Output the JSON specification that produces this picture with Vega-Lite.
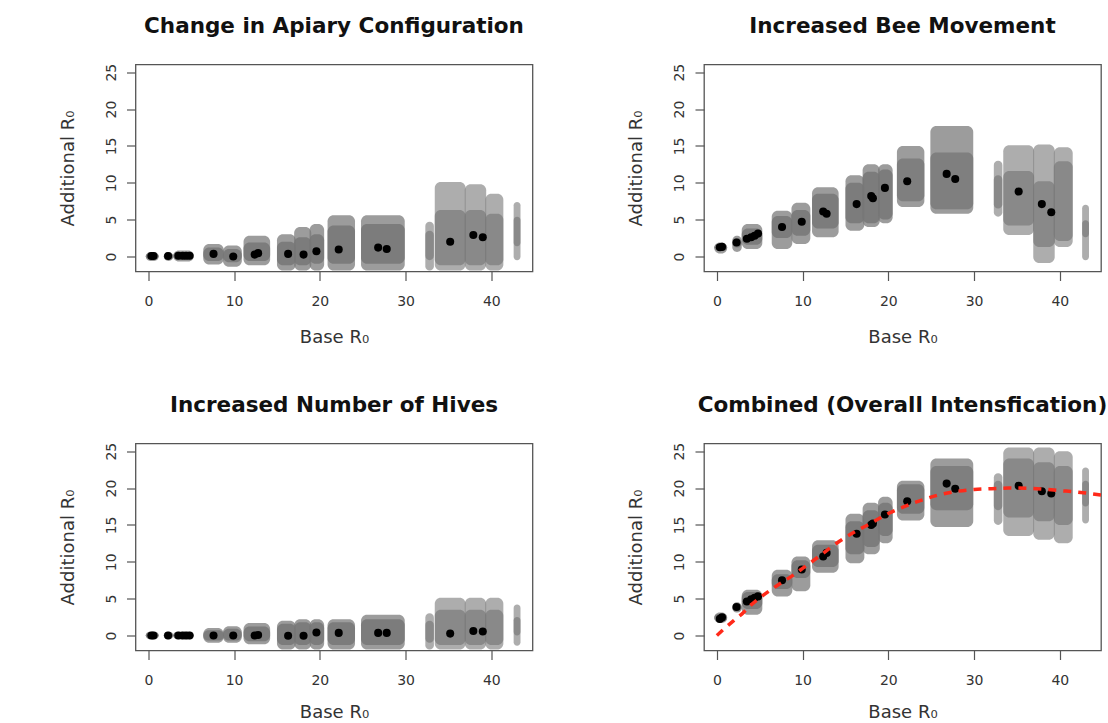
{
  "$schema": "https://vega.github.io/schema/vega-lite/v6.json",
  "background": "white",
  "padding": {"left": 57.5, "top": 15.5, "right": 0, "bottom": 0},
  "datasets": {
    "clouds": [
      {"p": "apiary", "x1": -0.3, "x2": 1.2, "y1": -0.6, "y2": 0.6, "d": "fringe"},
      {"p": "apiary", "x1": -0.3, "x2": 1.2, "y1": -0.35, "y2": 0.4, "d": "core"},
      {"p": "apiary", "x1": 1.8, "x2": 2.9, "y1": -0.6, "y2": 0.6, "d": "fringe"},
      {"p": "apiary", "x1": 1.8, "x2": 2.9, "y1": -0.35, "y2": 0.4, "d": "core"},
      {"p": "apiary", "x1": 2.9, "x2": 5.3, "y1": -0.7, "y2": 0.8, "d": "fringe"},
      {"p": "apiary", "x1": 2.9, "x2": 5.3, "y1": -0.45, "y2": 0.6, "d": "core"},
      {"p": "apiary", "x1": 6.4, "x2": 8.8, "y1": -1.1, "y2": 1.7, "d": "fringe"},
      {"p": "apiary", "x1": 6.4, "x2": 8.8, "y1": -0.6, "y2": 1.2, "d": "core"},
      {"p": "apiary", "x1": 8.7, "x2": 10.9, "y1": -1.4, "y2": 1.5, "d": "fringe"},
      {"p": "apiary", "x1": 8.7, "x2": 10.9, "y1": -0.8, "y2": 1.0, "d": "core"},
      {"p": "apiary", "x1": 11.1, "x2": 14.2, "y1": -1.2, "y2": 2.8, "d": "fringe"},
      {"p": "apiary", "x1": 11.1, "x2": 14.2, "y1": -0.6, "y2": 1.9, "d": "core"},
      {"p": "apiary", "x1": 15.0, "x2": 17.2, "y1": -1.9, "y2": 3.0, "d": "fringe"},
      {"p": "apiary", "x1": 15.0, "x2": 17.2, "y1": -1.2, "y2": 2.0, "d": "core"},
      {"p": "apiary", "x1": 17.0, "x2": 19.0, "y1": -1.9, "y2": 4.0, "d": "fringe"},
      {"p": "apiary", "x1": 17.0, "x2": 19.0, "y1": -1.2, "y2": 2.6, "d": "core"},
      {"p": "apiary", "x1": 18.8, "x2": 20.5, "y1": -1.9, "y2": 4.4, "d": "fringe"},
      {"p": "apiary", "x1": 18.8, "x2": 20.5, "y1": -1.0, "y2": 3.0, "d": "core"},
      {"p": "apiary", "x1": 20.9, "x2": 24.1, "y1": -1.9, "y2": 5.6, "d": "fringe"},
      {"p": "apiary", "x1": 20.9, "x2": 24.1, "y1": -1.0, "y2": 4.2, "d": "core"},
      {"p": "apiary", "x1": 24.8, "x2": 29.9, "y1": -1.9, "y2": 5.6, "d": "fringe"},
      {"p": "apiary", "x1": 24.8, "x2": 29.9, "y1": -1.0, "y2": 4.4, "d": "core"},
      {"p": "apiary", "x1": 32.3, "x2": 33.3, "y1": -1.9, "y2": 4.7, "d": "sparse fringe"},
      {"p": "apiary", "x1": 32.3, "x2": 33.3, "y1": -0.5, "y2": 3.5, "d": "sparse core"},
      {"p": "apiary", "x1": 33.4, "x2": 37.0, "y1": -1.9, "y2": 10.1, "d": "sparse fringe"},
      {"p": "apiary", "x1": 33.4, "x2": 37.0, "y1": -1.2, "y2": 6.3, "d": "sparse core"},
      {"p": "apiary", "x1": 36.9, "x2": 39.4, "y1": -1.9, "y2": 9.8, "d": "sparse fringe"},
      {"p": "apiary", "x1": 36.9, "x2": 39.4, "y1": -1.2, "y2": 6.3, "d": "sparse core"},
      {"p": "apiary", "x1": 39.3, "x2": 41.4, "y1": -1.9, "y2": 8.5, "d": "sparse fringe"},
      {"p": "apiary", "x1": 39.3, "x2": 41.4, "y1": -1.2, "y2": 5.8, "d": "sparse core"},
      {"p": "apiary", "x1": 42.6, "x2": 43.4, "y1": -0.5, "y2": 7.4, "d": "sparse fringe"},
      {"p": "apiary", "x1": 42.6, "x2": 43.4, "y1": 1.4, "y2": 5.4, "d": "sparse core"},

      {"p": "movement", "x1": -0.3, "x2": 1.2, "y1": 0.4, "y2": 1.9, "d": "fringe"},
      {"p": "movement", "x1": -0.3, "x2": 1.2, "y1": 0.8, "y2": 1.7, "d": "core"},
      {"p": "movement", "x1": 1.8, "x2": 2.9, "y1": 0.6, "y2": 2.8, "d": "fringe"},
      {"p": "movement", "x1": 1.8, "x2": 2.9, "y1": 1.2, "y2": 2.5, "d": "core"},
      {"p": "movement", "x1": 2.9, "x2": 5.3, "y1": 1.0, "y2": 4.4, "d": "fringe"},
      {"p": "movement", "x1": 2.9, "x2": 5.3, "y1": 1.6, "y2": 3.8, "d": "core"},
      {"p": "movement", "x1": 6.4, "x2": 8.8, "y1": 1.0, "y2": 6.2, "d": "fringe"},
      {"p": "movement", "x1": 6.4, "x2": 8.8, "y1": 2.5, "y2": 5.5, "d": "core"},
      {"p": "movement", "x1": 8.7, "x2": 10.9, "y1": 1.7, "y2": 7.3, "d": "fringe"},
      {"p": "movement", "x1": 8.7, "x2": 10.9, "y1": 2.8, "y2": 6.3, "d": "core"},
      {"p": "movement", "x1": 11.1, "x2": 14.2, "y1": 2.6, "y2": 9.4, "d": "fringe"},
      {"p": "movement", "x1": 11.1, "x2": 14.2, "y1": 3.8, "y2": 8.5, "d": "core"},
      {"p": "movement", "x1": 15.0, "x2": 17.2, "y1": 3.5, "y2": 11.0, "d": "fringe"},
      {"p": "movement", "x1": 15.0, "x2": 17.2, "y1": 4.5, "y2": 10.0, "d": "core"},
      {"p": "movement", "x1": 17.0, "x2": 19.0, "y1": 4.0, "y2": 12.5, "d": "fringe"},
      {"p": "movement", "x1": 17.0, "x2": 19.0, "y1": 4.5, "y2": 11.5, "d": "core"},
      {"p": "movement", "x1": 18.8, "x2": 20.5, "y1": 4.5, "y2": 12.5, "d": "fringe"},
      {"p": "movement", "x1": 18.8, "x2": 20.5, "y1": 5.0, "y2": 11.8, "d": "core"},
      {"p": "movement", "x1": 21.0, "x2": 24.2, "y1": 6.7, "y2": 15.0, "d": "fringe"},
      {"p": "movement", "x1": 21.0, "x2": 24.2, "y1": 7.5, "y2": 13.3, "d": "mid core"},
      {"p": "movement", "x1": 24.9, "x2": 29.9, "y1": 5.8, "y2": 17.7, "d": "fringe"},
      {"p": "movement", "x1": 24.9, "x2": 29.9, "y1": 6.4, "y2": 14.1, "d": "mid core"},
      {"p": "movement", "x1": 32.3, "x2": 33.3, "y1": 5.4, "y2": 13.0, "d": "sparse fringe"},
      {"p": "movement", "x1": 32.3, "x2": 33.3, "y1": 6.5, "y2": 11.0, "d": "sparse core"},
      {"p": "movement", "x1": 33.4, "x2": 37.0, "y1": 2.9, "y2": 15.1, "d": "sparse fringe"},
      {"p": "movement", "x1": 33.4, "x2": 37.0, "y1": 4.2, "y2": 11.6, "d": "sparse core"},
      {"p": "movement", "x1": 36.9, "x2": 39.4, "y1": -0.9, "y2": 15.2, "d": "sparse fringe"},
      {"p": "movement", "x1": 36.9, "x2": 39.4, "y1": 1.3, "y2": 10.2, "d": "sparse core"},
      {"p": "movement", "x1": 39.3, "x2": 41.5, "y1": 1.3, "y2": 14.8, "d": "sparse fringe"},
      {"p": "movement", "x1": 39.3, "x2": 41.5, "y1": 2.1, "y2": 12.9, "d": "sparse core"},
      {"p": "movement", "x1": 42.6, "x2": 43.4, "y1": -0.5, "y2": 7.0, "d": "sparse fringe"},
      {"p": "movement", "x1": 42.6, "x2": 43.4, "y1": 2.6, "y2": 4.9, "d": "sparse core"},

      {"p": "hives", "x1": -0.3, "x2": 1.2, "y1": -0.5, "y2": 0.5, "d": "fringe"},
      {"p": "hives", "x1": -0.3, "x2": 1.2, "y1": -0.3, "y2": 0.35, "d": "core"},
      {"p": "hives", "x1": 1.8, "x2": 2.9, "y1": -0.5, "y2": 0.5, "d": "fringe"},
      {"p": "hives", "x1": 1.8, "x2": 2.9, "y1": -0.3, "y2": 0.35, "d": "core"},
      {"p": "hives", "x1": 2.9, "x2": 5.3, "y1": -0.5, "y2": 0.5, "d": "fringe"},
      {"p": "hives", "x1": 2.9, "x2": 5.3, "y1": -0.3, "y2": 0.35, "d": "core"},
      {"p": "hives", "x1": 6.4, "x2": 8.8, "y1": -1.0, "y2": 1.0, "d": "fringe"},
      {"p": "hives", "x1": 6.4, "x2": 8.8, "y1": -0.7, "y2": 0.7, "d": "core"},
      {"p": "hives", "x1": 8.7, "x2": 10.9, "y1": -1.0, "y2": 1.25, "d": "fringe"},
      {"p": "hives", "x1": 8.7, "x2": 10.9, "y1": -0.7, "y2": 0.9, "d": "core"},
      {"p": "hives", "x1": 11.1, "x2": 14.2, "y1": -1.2, "y2": 1.7, "d": "fringe"},
      {"p": "hives", "x1": 11.1, "x2": 14.2, "y1": -0.8, "y2": 1.2, "d": "core"},
      {"p": "hives", "x1": 15.0, "x2": 17.2, "y1": -1.9, "y2": 2.0, "d": "fringe"},
      {"p": "hives", "x1": 15.0, "x2": 17.2, "y1": -1.3, "y2": 1.6, "d": "core"},
      {"p": "hives", "x1": 17.0, "x2": 19.0, "y1": -1.9, "y2": 2.2, "d": "fringe"},
      {"p": "hives", "x1": 17.0, "x2": 19.0, "y1": -1.3, "y2": 1.8, "d": "core"},
      {"p": "hives", "x1": 18.8, "x2": 20.5, "y1": -1.9, "y2": 2.2, "d": "fringe"},
      {"p": "hives", "x1": 18.8, "x2": 20.5, "y1": -1.3, "y2": 1.8, "d": "core"},
      {"p": "hives", "x1": 20.9, "x2": 24.1, "y1": -1.9, "y2": 2.2, "d": "fringe"},
      {"p": "hives", "x1": 20.9, "x2": 24.1, "y1": -1.3, "y2": 1.8, "d": "core"},
      {"p": "hives", "x1": 24.8, "x2": 29.9, "y1": -1.9, "y2": 2.8, "d": "fringe"},
      {"p": "hives", "x1": 24.8, "x2": 29.9, "y1": -1.3, "y2": 2.2, "d": "core"},
      {"p": "hives", "x1": 32.3, "x2": 33.3, "y1": -1.9, "y2": 3.0, "d": "sparse fringe"},
      {"p": "hives", "x1": 32.3, "x2": 33.3, "y1": -1.0, "y2": 2.0, "d": "sparse core"},
      {"p": "hives", "x1": 33.4, "x2": 37.0, "y1": -1.9, "y2": 5.1, "d": "sparse fringe"},
      {"p": "hives", "x1": 33.4, "x2": 37.0, "y1": -1.3, "y2": 3.5, "d": "sparse core"},
      {"p": "hives", "x1": 36.9, "x2": 39.4, "y1": -1.9, "y2": 5.1, "d": "sparse fringe"},
      {"p": "hives", "x1": 36.9, "x2": 39.4, "y1": -1.3, "y2": 3.5, "d": "sparse core"},
      {"p": "hives", "x1": 39.3, "x2": 41.4, "y1": -1.9, "y2": 5.1, "d": "sparse fringe"},
      {"p": "hives", "x1": 39.3, "x2": 41.4, "y1": -1.3, "y2": 3.5, "d": "sparse core"},
      {"p": "hives", "x1": 42.6, "x2": 43.4, "y1": -1.4, "y2": 4.2, "d": "sparse fringe"},
      {"p": "hives", "x1": 42.6, "x2": 43.4, "y1": 0.0, "y2": 2.5, "d": "sparse core"},

      {"p": "combined", "x1": -0.3, "x2": 1.2, "y1": 1.7, "y2": 3.1, "d": "fringe"},
      {"p": "combined", "x1": -0.3, "x2": 1.2, "y1": 1.9, "y2": 2.9, "d": "core"},
      {"p": "combined", "x1": 1.8, "x2": 2.9, "y1": 3.1, "y2": 4.5, "d": "fringe"},
      {"p": "combined", "x1": 1.8, "x2": 2.9, "y1": 3.3, "y2": 4.3, "d": "core"},
      {"p": "combined", "x1": 2.9, "x2": 5.3, "y1": 2.8, "y2": 6.2, "d": "fringe"},
      {"p": "combined", "x1": 2.9, "x2": 5.3, "y1": 3.6, "y2": 5.9, "d": "core"},
      {"p": "combined", "x1": 6.4, "x2": 8.8, "y1": 5.3, "y2": 8.9, "d": "fringe"},
      {"p": "combined", "x1": 6.4, "x2": 8.8, "y1": 6.3, "y2": 8.3, "d": "core"},
      {"p": "combined", "x1": 8.7, "x2": 10.9, "y1": 6.0, "y2": 10.7, "d": "fringe"},
      {"p": "combined", "x1": 8.7, "x2": 10.9, "y1": 7.8, "y2": 10.2, "d": "core"},
      {"p": "combined", "x1": 11.1, "x2": 14.2, "y1": 8.5, "y2": 12.9, "d": "fringe"},
      {"p": "combined", "x1": 11.1, "x2": 14.2, "y1": 9.3, "y2": 12.3, "d": "core"},
      {"p": "combined", "x1": 15.0, "x2": 17.2, "y1": 9.8, "y2": 16.5, "d": "fringe"},
      {"p": "combined", "x1": 15.0, "x2": 17.2, "y1": 11.0, "y2": 15.5, "d": "core"},
      {"p": "combined", "x1": 17.0, "x2": 19.0, "y1": 11.0, "y2": 18.0, "d": "fringe"},
      {"p": "combined", "x1": 17.0, "x2": 19.0, "y1": 12.0, "y2": 17.0, "d": "core"},
      {"p": "combined", "x1": 18.8, "x2": 20.5, "y1": 12.5, "y2": 18.8, "d": "fringe"},
      {"p": "combined", "x1": 18.8, "x2": 20.5, "y1": 13.5, "y2": 18.0, "d": "core"},
      {"p": "combined", "x1": 21.0, "x2": 24.2, "y1": 15.6, "y2": 21.0, "d": "fringe"},
      {"p": "combined", "x1": 21.0, "x2": 24.2, "y1": 16.5, "y2": 20.5, "d": "core"},
      {"p": "combined", "x1": 24.9, "x2": 29.9, "y1": 14.7, "y2": 24.0, "d": "fringe"},
      {"p": "combined", "x1": 24.9, "x2": 29.9, "y1": 17.0, "y2": 23.0, "d": "mid core"},
      {"p": "combined", "x1": 32.3, "x2": 33.3, "y1": 15.0, "y2": 22.0, "d": "sparse fringe"},
      {"p": "combined", "x1": 32.3, "x2": 33.3, "y1": 17.0, "y2": 21.0, "d": "sparse core"},
      {"p": "combined", "x1": 33.4, "x2": 37.0, "y1": 13.5, "y2": 25.5, "d": "sparse fringe"},
      {"p": "combined", "x1": 33.4, "x2": 37.0, "y1": 16.0, "y2": 24.0, "d": "sparse core"},
      {"p": "combined", "x1": 36.9, "x2": 39.4, "y1": 13.0, "y2": 25.5, "d": "sparse fringe"},
      {"p": "combined", "x1": 36.9, "x2": 39.4, "y1": 15.5, "y2": 23.5, "d": "sparse core"},
      {"p": "combined", "x1": 39.3, "x2": 41.5, "y1": 12.5, "y2": 25.0, "d": "sparse fringe"},
      {"p": "combined", "x1": 39.3, "x2": 41.5, "y1": 15.0, "y2": 23.0, "d": "sparse core"},
      {"p": "combined", "x1": 42.6, "x2": 43.4, "y1": 15.2, "y2": 22.8, "d": "sparse fringe"},
      {"p": "combined", "x1": 42.6, "x2": 43.4, "y1": 17.5, "y2": 21.0, "d": "sparse core"}
    ],
    "means": [
      {"p": "apiary", "x": 0.35, "y": 0.05}, {"p": "apiary", "x": 0.6, "y": 0.05},
      {"p": "apiary", "x": 2.3, "y": 0.05}, {"p": "apiary", "x": 3.5, "y": 0.1},
      {"p": "apiary", "x": 4.0, "y": 0.1}, {"p": "apiary", "x": 4.4, "y": 0.1},
      {"p": "apiary", "x": 4.8, "y": 0.1}, {"p": "apiary", "x": 7.6, "y": 0.35},
      {"p": "apiary", "x": 9.9, "y": 0.0}, {"p": "apiary", "x": 12.4, "y": 0.25},
      {"p": "apiary", "x": 12.8, "y": 0.45}, {"p": "apiary", "x": 16.3, "y": 0.35},
      {"p": "apiary", "x": 18.1, "y": 0.25}, {"p": "apiary", "x": 19.6, "y": 0.7},
      {"p": "apiary", "x": 22.2, "y": 0.95}, {"p": "apiary", "x": 26.8, "y": 1.2},
      {"p": "apiary", "x": 27.8, "y": 1.0}, {"p": "apiary", "x": 35.2, "y": 2.0},
      {"p": "apiary", "x": 37.9, "y": 2.9}, {"p": "apiary", "x": 39.0, "y": 2.6},

      {"p": "movement", "x": 0.35, "y": 1.25}, {"p": "movement", "x": 0.6, "y": 1.3},
      {"p": "movement", "x": 2.3, "y": 1.9}, {"p": "movement", "x": 3.5, "y": 2.4},
      {"p": "movement", "x": 4.0, "y": 2.6}, {"p": "movement", "x": 4.4, "y": 2.8},
      {"p": "movement", "x": 4.8, "y": 3.1}, {"p": "movement", "x": 7.6, "y": 4.0},
      {"p": "movement", "x": 9.9, "y": 4.7}, {"p": "movement", "x": 12.4, "y": 6.1},
      {"p": "movement", "x": 12.8, "y": 5.8}, {"p": "movement", "x": 16.3, "y": 7.1},
      {"p": "movement", "x": 18.0, "y": 8.2}, {"p": "movement", "x": 18.2, "y": 7.9},
      {"p": "movement", "x": 19.6, "y": 9.3}, {"p": "movement", "x": 22.2, "y": 10.2},
      {"p": "movement", "x": 26.8, "y": 11.2}, {"p": "movement", "x": 27.8, "y": 10.5},
      {"p": "movement", "x": 35.2, "y": 8.8}, {"p": "movement", "x": 37.9, "y": 7.1},
      {"p": "movement", "x": 39.0, "y": 6.0},

      {"p": "hives", "x": 0.35, "y": 0.0}, {"p": "hives", "x": 0.6, "y": 0.0},
      {"p": "hives", "x": 2.3, "y": 0.0}, {"p": "hives", "x": 3.5, "y": 0.0},
      {"p": "hives", "x": 4.0, "y": 0.0}, {"p": "hives", "x": 4.4, "y": 0.0},
      {"p": "hives", "x": 4.8, "y": 0.0}, {"p": "hives", "x": 7.6, "y": 0.0},
      {"p": "hives", "x": 9.9, "y": 0.0}, {"p": "hives", "x": 12.4, "y": 0.0},
      {"p": "hives", "x": 12.8, "y": 0.05}, {"p": "hives", "x": 16.3, "y": -0.05},
      {"p": "hives", "x": 18.1, "y": -0.05}, {"p": "hives", "x": 19.6, "y": 0.4},
      {"p": "hives", "x": 22.2, "y": 0.35}, {"p": "hives", "x": 26.8, "y": 0.35},
      {"p": "hives", "x": 27.8, "y": 0.35}, {"p": "hives", "x": 35.2, "y": 0.25},
      {"p": "hives", "x": 37.9, "y": 0.6}, {"p": "hives", "x": 39.0, "y": 0.55},

      {"p": "combined", "x": 0.35, "y": 2.25}, {"p": "combined", "x": 0.6, "y": 2.45},
      {"p": "combined", "x": 2.3, "y": 3.85}, {"p": "combined", "x": 3.5, "y": 4.6},
      {"p": "combined", "x": 4.0, "y": 4.9}, {"p": "combined", "x": 4.4, "y": 5.1},
      {"p": "combined", "x": 4.8, "y": 5.3}, {"p": "combined", "x": 7.6, "y": 7.5},
      {"p": "combined", "x": 9.9, "y": 8.95}, {"p": "combined", "x": 12.4, "y": 10.7},
      {"p": "combined", "x": 12.8, "y": 11.2}, {"p": "combined", "x": 16.3, "y": 13.8},
      {"p": "combined", "x": 18.0, "y": 15.0}, {"p": "combined", "x": 18.2, "y": 15.2},
      {"p": "combined", "x": 19.6, "y": 16.4}, {"p": "combined", "x": 22.2, "y": 18.2},
      {"p": "combined", "x": 26.8, "y": 20.6}, {"p": "combined", "x": 27.8, "y": 19.9},
      {"p": "combined", "x": 35.2, "y": 20.3}, {"p": "combined", "x": 37.9, "y": 19.55},
      {"p": "combined", "x": 39.0, "y": 19.25}
    ],
    "curve": [
      {"x": 0, "y": 0.0}, {"x": 1, "y": 1.05}, {"x": 2, "y": 2.05}, {"x": 3, "y": 3.0},
      {"x": 4, "y": 4.15}, {"x": 5, "y": 5.1}, {"x": 6, "y": 5.95}, {"x": 7, "y": 6.75},
      {"x": 8, "y": 7.5}, {"x": 9, "y": 8.25}, {"x": 10, "y": 9.1}, {"x": 12, "y": 10.8},
      {"x": 14, "y": 12.55}, {"x": 16, "y": 14.0}, {"x": 18, "y": 15.25}, {"x": 20, "y": 16.55},
      {"x": 22, "y": 17.55}, {"x": 24, "y": 18.4}, {"x": 26, "y": 19.1}, {"x": 28, "y": 19.55},
      {"x": 30, "y": 19.8}, {"x": 32, "y": 19.9}, {"x": 34, "y": 20.0}, {"x": 36, "y": 19.98},
      {"x": 38, "y": 19.85}, {"x": 40, "y": 19.65}, {"x": 42, "y": 19.45}, {"x": 44.8, "y": 19.05}
    ]
  },
  "config": {
    "view": {"stroke": "#555555", "strokeWidth": 1.3},
    "font": "DejaVu Sans",
    "axis": {
      "domain": false, "grid": false, "ticks": true, "tickSize": 9, "tickColor": "#555555", "tickWidth": 1.2,
      "labelFont": "DejaVu Sans", "labelFontSize": 14, "labelColor": "#333333",
      "titleFont": "DejaVu Sans", "titleFontSize": 18, "titleFontWeight": "normal", "titleColor": "#333333",
      "labelFlush": false, "labelOverlap": false
    },
    "title": {"font": "DejaVu Sans", "fontSize": 21.5, "fontWeight": "bold", "color": "#111111", "anchor": "middle", "frame": "group", "baseline": "alphabetic", "offset": 25.5}
  },
  "columns": 2,
  "spacing": {"row": 172, "column": 171.5},
  "bounds": "flush",
  "concat": [
    {
      "title": "Change in Apiary Configuration",
      "width": 397, "height": 207,
      "layer": [
        {
          "data": {"name": "clouds"},
          "transform": [{"filter": "datum.p === 'apiary'"}],
          "mark": {"type": "rect", "color": "#777777", "cornerRadius": 6},
          "encoding": {
            "x": {"field": "x1", "type": "quantitative", "scale": {"domain": [-1.5, 44.8], "nice": false, "zero": false},
                  "axis": {"values": [0, 10, 20, 30, 40], "title": "Base R₀", "labelPadding": 14, "titleBaseline": "alphabetic", "titleY": 70.5}},
            "x2": {"field": "x2"},
            "y": {"field": "y1", "type": "quantitative", "scale": {"domain": [-2.04, 26.04], "nice": false, "zero": false},
                  "axis": {"values": [0, 5, 10, 15, 20, 25], "title": "Additional R₀", "labelAngle": -90, "labelAlign": "center", "labelBaseline": "alphabetic", "labelPadding": 11.5, "titleAngle": -90, "titleBaseline": "alphabetic", "titleX": -62.5, "titleY": 103.5}},
            "y2": {"field": "y2"},
            "opacity": {"field": "d", "type": "ordinal", "scale": {"domain": ["core", "mid core", "fringe", "sparse core", "sparse fringe"], "range": [0.85, 0.6, 0.35, 0.42, 0.16]}, "legend": null}
          }
        },
        {
          "data": {"name": "means"},
          "transform": [{"filter": "datum.p === 'apiary'"}],
          "mark": {"type": "circle", "color": "#000000", "opacity": 1, "size": 65},
          "encoding": {"x": {"field": "x", "type": "quantitative"}, "y": {"field": "y", "type": "quantitative"}}
        }
      ]
    },
    {
      "title": "Increased Bee Movement",
      "width": 397, "height": 207,
      "layer": [
        {
          "data": {"name": "clouds"},
          "transform": [{"filter": "datum.p === 'movement'"}],
          "mark": {"type": "rect", "color": "#777777", "cornerRadius": 6},
          "encoding": {
            "x": {"field": "x1", "type": "quantitative", "scale": {"domain": [-1.5, 44.8], "nice": false, "zero": false},
                  "axis": {"values": [0, 10, 20, 30, 40], "title": "Base R₀", "labelPadding": 14, "titleBaseline": "alphabetic", "titleY": 70.5}},
            "x2": {"field": "x2"},
            "y": {"field": "y1", "type": "quantitative", "scale": {"domain": [-2.04, 26.04], "nice": false, "zero": false},
                  "axis": {"values": [0, 5, 10, 15, 20, 25], "title": "Additional R₀", "labelAngle": -90, "labelAlign": "center", "labelBaseline": "alphabetic", "labelPadding": 11.5, "titleAngle": -90, "titleBaseline": "alphabetic", "titleX": -62.5, "titleY": 103.5}},
            "y2": {"field": "y2"},
            "opacity": {"field": "d", "type": "ordinal", "scale": {"domain": ["core", "mid core", "fringe", "sparse core", "sparse fringe"], "range": [0.85, 0.6, 0.35, 0.42, 0.16]}, "legend": null}
          }
        },
        {
          "data": {"name": "means"},
          "transform": [{"filter": "datum.p === 'movement'"}],
          "mark": {"type": "circle", "color": "#000000", "opacity": 1, "size": 65},
          "encoding": {"x": {"field": "x", "type": "quantitative"}, "y": {"field": "y", "type": "quantitative"}}
        }
      ]
    },
    {
      "title": "Increased Number of Hives",
      "width": 397, "height": 207,
      "layer": [
        {
          "data": {"name": "clouds"},
          "transform": [{"filter": "datum.p === 'hives'"}],
          "mark": {"type": "rect", "color": "#777777", "cornerRadius": 6},
          "encoding": {
            "x": {"field": "x1", "type": "quantitative", "scale": {"domain": [-1.5, 44.8], "nice": false, "zero": false},
                  "axis": {"values": [0, 10, 20, 30, 40], "title": "Base R₀", "labelPadding": 14, "titleBaseline": "alphabetic", "titleY": 67}},
            "x2": {"field": "x2"},
            "y": {"field": "y1", "type": "quantitative", "scale": {"domain": [-2.04, 26.04], "nice": false, "zero": false},
                  "axis": {"values": [0, 5, 10, 15, 20, 25], "title": "Additional R₀", "labelAngle": -90, "labelAlign": "center", "labelBaseline": "alphabetic", "labelPadding": 11.5, "titleAngle": -90, "titleBaseline": "alphabetic", "titleX": -62.5, "titleY": 103.5}},
            "y2": {"field": "y2"},
            "opacity": {"field": "d", "type": "ordinal", "scale": {"domain": ["core", "mid core", "fringe", "sparse core", "sparse fringe"], "range": [0.85, 0.6, 0.35, 0.42, 0.16]}, "legend": null}
          }
        },
        {
          "data": {"name": "means"},
          "transform": [{"filter": "datum.p === 'hives'"}],
          "mark": {"type": "circle", "color": "#000000", "opacity": 1, "size": 65},
          "encoding": {"x": {"field": "x", "type": "quantitative"}, "y": {"field": "y", "type": "quantitative"}}
        }
      ]
    },
    {
      "title": "Combined (Overall Intensfication)",
      "width": 397, "height": 207,
      "layer": [
        {
          "data": {"name": "clouds"},
          "transform": [{"filter": "datum.p === 'combined'"}],
          "mark": {"type": "rect", "color": "#777777", "cornerRadius": 6},
          "encoding": {
            "x": {"field": "x1", "type": "quantitative", "scale": {"domain": [-1.5, 44.8], "nice": false, "zero": false},
                  "axis": {"values": [0, 10, 20, 30, 40], "title": "Base R₀", "labelPadding": 14, "titleBaseline": "alphabetic", "titleY": 67}},
            "x2": {"field": "x2"},
            "y": {"field": "y1", "type": "quantitative", "scale": {"domain": [-2.04, 26.04], "nice": false, "zero": false},
                  "axis": {"values": [0, 5, 10, 15, 20, 25], "title": "Additional R₀", "labelAngle": -90, "labelAlign": "center", "labelBaseline": "alphabetic", "labelPadding": 11.5, "titleAngle": -90, "titleBaseline": "alphabetic", "titleX": -62.5, "titleY": 103.5}},
            "y2": {"field": "y2"},
            "opacity": {"field": "d", "type": "ordinal", "scale": {"domain": ["core", "mid core", "fringe", "sparse core", "sparse fringe"], "range": [0.85, 0.6, 0.35, 0.42, 0.16]}, "legend": null}
          }
        },
        {
          "data": {"name": "means"},
          "transform": [{"filter": "datum.p === 'combined'"}],
          "mark": {"type": "circle", "color": "#000000", "opacity": 1, "size": 65},
          "encoding": {"x": {"field": "x", "type": "quantitative"}, "y": {"field": "y", "type": "quantitative"}}
        },
        {
          "data": {"name": "curve"},
          "mark": {"type": "line", "color": "#ff2a1a", "strokeWidth": 3.5, "strokeDash": [8, 7], "interpolate": "monotone", "clip": true},
          "encoding": {"x": {"field": "x", "type": "quantitative"}, "y": {"field": "y", "type": "quantitative"}}
        }
      ]
    }
  ]
}
